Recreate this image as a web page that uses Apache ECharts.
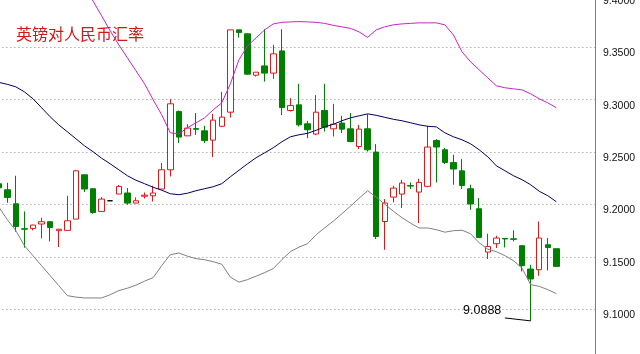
<!DOCTYPE html>
<html>
<head>
<meta charset="utf-8">
<title>英镑对人民币汇率</title>
<script src="https://cdn.jsdelivr.net/npm/echarts@6/dist/echarts.min.js"></script>
<style>
    html, body { margin: 0; padding: 0; background: #fff; }
    #gbpChart { width: 640px; height: 354px; }
</style>
</head>
<body>
<div id="gbpChart"></div>
<script>
/* 英镑对人民币 日K + 布林带 */

var titleText = '英镑对人民币汇率';

// K线: 开 收 低 高
var openVals = [9.2197, 9.2140, 9.2006, 9.1768, 9.1771, 9.1813, 9.1835, 9.1749, 9.1752, 9.1860,
    9.2283, 9.2150, 9.1933, 9.2035, 9.2099, 9.2109, 9.2013, 9.2078, 9.2083, 9.2147,
    9.2331, 9.2887, 9.2655, 9.2724, 9.2703, 9.2614, 9.2746, 9.2881, 9.3667, 9.3629,
    9.3234, 9.3323, 9.3254, 9.3466, 9.2897, 9.2951, 9.2770, 9.2672, 9.2897, 9.2722,
    9.2777, 9.2722, 9.2553, 9.2722, 9.2500, 9.1837, 9.2070, 9.2099, 9.2181, 9.2118,
    9.2173, 9.2610, 9.2522, 9.2401, 9.2321, 9.2150, 9.1959, 9.1545, 9.1625, 9.1675,
    9.1672, 9.1606, 9.1383, 9.1377, 9.1615, 9.1577];
var closeVals = [9.2159, 9.2067, 9.1790, 9.1763, 9.1803, 9.1835, 9.1780, 9.1763, 9.1844, 9.2321,
    9.2147, 9.1923, 9.2051, 9.2035, 9.2172, 9.2013, 9.2035, 9.2088, 9.2109, 9.2331,
    9.2961, 9.2643, 9.2729, 9.2718, 9.2610, 9.2805, 9.2834, 9.3667, 9.3641, 9.3244,
    9.3263, 9.3254, 9.3438, 9.2925, 9.2944, 9.2760, 9.2713, 9.2881, 9.2738, 9.2767,
    9.2719, 9.2601, 9.2719, 9.2522, 9.1694, 9.2013, 9.2156, 9.2204, 9.2175, 9.2210,
    9.2548, 9.2548, 9.2401, 9.2338, 9.2181, 9.2004, 9.1685, 9.1599, 9.1679, 9.1670,
    9.1667, 9.1415, 9.1288, 9.1679, 9.1589, 9.1408];
var lowVals = [9.2140, 9.2016, 9.1739, 9.1587, 9.1752, 9.1675, 9.1647, 9.1593, 9.1752, 9.1860,
    9.2118, 9.1911, 9.1933, 9.2035, 9.2099, 9.1997, 9.2013, 9.2057, 9.2028, 9.2147,
    9.2267, 9.2586, 9.2655, 9.2665, 9.2586, 9.2452, 9.2738, 9.2830, 9.3593, 9.3237,
    9.3221, 9.3173, 9.3199, 9.2853, 9.2887, 9.2744, 9.2633, 9.2662, 9.2696, 9.2649,
    9.2681, 9.2593, 9.2528, 9.2505, 9.1670, 9.1567, 9.2019, 9.1965, 9.2147, 9.1822,
    9.2164, 9.2210, 9.2385, 9.2188, 9.2147, 9.1949, 9.1679, 9.1479, 9.1584, 9.1589,
    9.1647, 9.1360, 9.0888, 9.1319, 9.1370, 9.1408];
var highVals = [9.2207, 9.2207, 9.2274, 9.1933, 9.1806, 9.1873, 9.1835, 9.1768, 9.2083, 9.2331,
    9.2283, 9.2150, 9.2070, 9.2035, 9.2185, 9.2156, 9.2067, 9.2114, 9.2178, 9.2395,
    9.3006, 9.2897, 9.2767, 9.2872, 9.2751, 9.2865, 9.3075, 9.3667, 9.3667, 9.3635,
    9.3263, 9.3673, 9.3524, 9.3673, 9.3015, 9.3152, 9.2798, 9.3044, 9.3152, 9.2961,
    9.2846, 9.2872, 9.2760, 9.2862, 9.2576, 9.2051, 9.2178, 9.2235, 9.2210, 9.2245,
    9.2751, 9.2624, 9.2538, 9.2474, 9.2433, 9.2188, 9.2061, 9.1720, 9.1701, 9.1679,
    9.1752, 9.1606, 9.1424, 9.1837, 9.1679, 9.1577];

// 布林带 上轨 中轨 下轨
var upperBand = [9.453, 9.457, 9.460, 9.462, 9.462, 9.460, 9.455, 9.447, 9.436, 9.422,
    9.4077, 9.3942, 9.3801, 9.3657, 9.3524, 9.3400, 9.3276, 9.3152, 9.2999, 9.2856,
    9.2684, 9.2675, 9.2732, 9.2780, 9.2827, 9.2904, 9.2970, 9.3152, 9.3381, 9.3514,
    9.3591, 9.3667, 9.3724, 9.3739, 9.3743, 9.3746, 9.3743, 9.3739, 9.3729, 9.3710,
    9.3696, 9.3681, 9.3648, 9.3595, 9.3667, 9.3696, 9.3715, 9.3724, 9.3729, 9.3734,
    9.3734, 9.3734, 9.3715, 9.3619, 9.3457, 9.3362, 9.3285, 9.3209, 9.3133, 9.3114,
    9.3104, 9.3094, 9.3056, 9.3009, 9.2970, 9.2923];
var midBand = [9.3166, 9.3147, 9.3123, 9.3075, 9.3009, 9.2923, 9.2837, 9.2760, 9.2694, 9.2627,
    9.2560, 9.2503, 9.2441, 9.2388, 9.2331, 9.2274, 9.2231, 9.2198, 9.2164, 9.2136,
    9.2102, 9.2093, 9.2107, 9.2131, 9.2150, 9.2169, 9.2198, 9.2264, 9.2326, 9.2388,
    9.2446, 9.2493, 9.2541, 9.2598, 9.2646, 9.2665, 9.2679, 9.2708, 9.2741, 9.2765,
    9.2799, 9.2827, 9.2846, 9.2865, 9.2851, 9.2832, 9.2813, 9.2799, 9.2780, 9.2760,
    9.2746, 9.2741, 9.2684, 9.2646, 9.2617, 9.2579, 9.2522, 9.2455, 9.2369, 9.2322,
    9.2274, 9.2236, 9.2188, 9.2126, 9.2083, 9.2026];
var lowerBand = [9.1978, 9.1854, 9.1749, 9.1606, 9.1510, 9.1415, 9.1320, 9.1225, 9.1129, 9.1115,
    9.1107, 9.1107, 9.1107, 9.1138, 9.1177, 9.1200, 9.1229, 9.1267, 9.1301, 9.1415,
    9.1520, 9.1536, 9.1506, 9.1482, 9.1472, 9.1453, 9.1429, 9.1306, 9.1258, 9.1282,
    9.1315, 9.1349, 9.1387, 9.1472, 9.1549, 9.1592, 9.1625, 9.1711, 9.1777, 9.1840,
    9.1911, 9.1983, 9.2059, 9.2131, 9.2069, 9.2002, 9.1935, 9.1874, 9.1821, 9.1775,
    9.1775, 9.1759, 9.1735, 9.1749, 9.1754, 9.1720, 9.1634, 9.1573, 9.1549, 9.1511,
    9.1463, 9.1391, 9.1234, 9.1218, 9.1186, 9.1148];

// Y轴刻度
var yMin = 9.05, yMax = 9.40, yStep = 0.05;

// 右侧留白的空K线数
var padCount = 4;

var categories = [];
var kData = [];
for (var i = 0; i < openVals.length + padCount; i++) {
    categories.push(String(i + 1));
    if (i < openVals.length) {
        kData.push([openVals[i], closeVals[i], lowVals[i], highVals[i]]);
    } else {
        kData.push('-');
    }
}

// 最低点
var lowIdx = 0;
for (var j = 1; j < lowVals.length; j++) {
    if (lowVals[j] < lowVals[lowIdx]) lowIdx = j;
}
var lowVal = lowVals[lowIdx];

function padLine(arr) {
    var out = arr.slice();
    for (var k = 0; k < padCount; k++) out.push('-');
    return out;
}

var gbpChart = echarts.init(document.getElementById('gbpChart'));

var option = {
    backgroundColor: '#ffffff',
    animation: false,
    title: {
        text: titleText,
        left: 16,
        top: 26,
        padding: 0,
        textStyle: {
            color: '#d01818',
            fontSize: 16,
            fontWeight: 'normal',
            fontFamily: 'Noto Sans CJK SC'
        }
    },
    grid: {
        left: -5.6,
        right: 45,
        top: -5,
        bottom: -7.5,
        containLabel: false,
        outerBoundsMode: 'none'
    },
    xAxis: {
        type: 'category',
        data: categories,
        boundaryGap: true,
        axisLine: { show: false },
        axisTick: { show: false },
        axisLabel: { show: false },
        splitLine: { show: false }
    },
    yAxis: {
        type: 'value',
        position: 'right',
        min: yMin,
        max: yMax,
        interval: yStep,
        axisLine: {
            show: true,
            lineStyle: { color: '#808080', width: 1 }
        },
        axisTick: { show: false },
        axisLabel: {
            color: '#111',
            fontSize: 10.5,
            fontFamily: 'Liberation Sans',
            margin: 8,
            verticalAlign: 'top',
            lineHeight: 12,
            formatter: function (v) { return v.toFixed(4); }
        },
        splitLine: {
            show: true,
            lineStyle: { color: '#8a8a8a', width: 1, type: [1, 3] }
        }
    },
    series: [{
        name: 'K',
        type: 'candlestick',
        data: kData,
        barWidth: 6,
        itemStyle: {
            color: '#ffffff',
            color0: '#008000',
            borderColor: '#dd1a1a',
            borderColor0: '#008000',
            borderColorDoji: '#000000',
            borderWidth: 1
        },
        markLine: {
            silent: true,
            symbol: ['none', 'none'],
            label: { show: false },
            lineStyle: { color: '#000', width: 1, type: 'solid' },
            data: [[
                { coord: [lowIdx - 3, lowVal + 0.0028] },
                { coord: [lowIdx, lowVal] }
            ]]
        },
        markPoint: {
            silent: true,
            symbol: 'circle',
            symbolSize: 1,
            itemStyle: { color: 'rgba(0,0,0,0)' },
            label: {
                show: true,
                position: 'inside',
                offset: [3, 0],
                color: '#000',
                fontSize: 12.5,
                fontFamily: 'Liberation Sans',
                formatter: function () { return lowVal.toFixed(4); }
            },
            data: [{ coord: [lowIdx - 6, lowVal + 0.0102] }]
        }
    }, {
        name: '上轨',
        type: 'line',
        data: padLine(upperBand),
        showSymbol: false,
        lineStyle: { color: '#cc22cc', width: 1 }
    }, {
        name: '中轨',
        type: 'line',
        data: padLine(midBand),
        showSymbol: false,
        lineStyle: { color: '#000060', width: 1 }
    }, {
        name: '下轨',
        type: 'line',
        data: padLine(lowerBand),
        showSymbol: false,
        lineStyle: { color: '#808080', width: 1 }
    }]
};

gbpChart.setOption(option);
</script>
</body>
</html>
